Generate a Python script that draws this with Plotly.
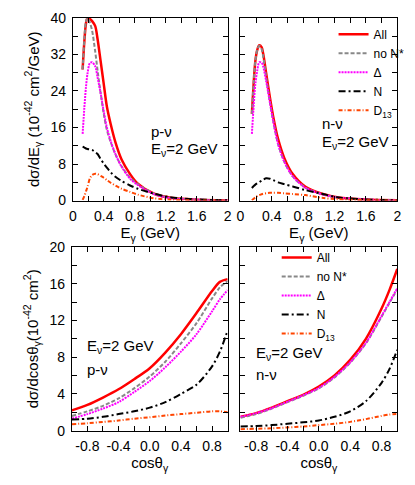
import plotly.graph_objects as go

# ---- data ----
# top row: d(sigma)/dE_gamma vs E_gamma, E_nu = 2 GeV
e_p = [0.127, 0.15, 0.17, 0.19, 0.22, 0.25, 0.29, 0.32, 0.36, 0.40, 0.44, 0.49, 0.55, 0.63, 0.74, 0.84, 1.05, 1.27, 1.6, 2.0]
p_all = [28.7, 35.0, 38.8, 40.0, 39.8, 39.3, 38.2, 35.4, 30.5, 25.5, 20.6, 16.7, 12.8, 9.0, 5.8, 3.7, 1.5, 0.6, 0.2, 0.05]
p_nonstar = [28.7, 35.5, 39.2, 40.0, 39.0, 37.2, 32.6, 28.5, 23.5, 19.0, 15.5, 12.8, 10.2, 7.5, 5.0, 3.6, 1.5, 0.6, 0.2, 0.05]
p_delta = [14.6, 20.5, 24.8, 27.8, 30.1, 30.3, 29.4, 27.0, 23.5, 19.5, 16.0, 13.0, 10.2, 7.4, 4.8, 3.4, 1.4, 0.5, 0.2, 0.05]
p_nuc = [11.8, 11.6, 11.4, 11.3, 11.2, 11.1, 10.6, 10.2, 9.1, 8.1, 7.2, 6.2, 5.2, 4.3, 3.3, 2.6, 1.5, 0.7, 0.25, 0.08]
p_d13 = [0.15, 1.0, 2.0, 3.0, 4.8, 5.6, 5.9, 5.8, 5.4, 5.0, 4.5, 3.9, 3.3, 2.6, 1.9, 1.3, 0.5, 0.2, 0.05, 0.0]

e_n = [0.146, 0.17, 0.19, 0.215, 0.24, 0.27, 0.29, 0.33, 0.375, 0.417, 0.48, 0.56, 0.667, 0.83, 1.04, 1.25, 1.6, 2.0]
n_all = [19.0, 26.0, 30.5, 33.0, 34.0, 33.6, 32.2, 27.7, 22.7, 18.5, 13.5, 9.3, 5.8, 3.0, 1.5, 0.7, 0.25, 0.08]
n_nonstar = [19.0, 26.0, 30.5, 33.0, 33.9, 33.2, 31.6, 26.8, 21.6, 17.5, 12.4, 8.5, 5.3, 2.8, 1.4, 0.65, 0.22, 0.07]
n_delta = [14.6, 21.0, 25.5, 28.5, 30.3, 30.2, 29.4, 26.0, 21.6, 17.5, 12.4, 8.5, 5.3, 2.8, 1.4, 0.65, 0.22, 0.07]
n_nuc = [2.75, 3.2, 3.5, 3.8, 4.0, 4.4, 4.6, 4.9, 4.8, 4.5, 4.0, 3.6, 3.1, 2.3, 1.5, 0.7, 0.25, 0.08]
n_d13 = [0.1, 0.4, 0.7, 1.0, 1.2, 1.4, 1.5, 1.6, 1.7, 1.7, 1.7, 1.6, 1.45, 1.2, 0.6, 0.3, 0.1, 0.02]

# bottom row: d(sigma)/dcos(theta_gamma) vs cos(theta_gamma)
cos_t = [-1.0, -0.8, -0.6, -0.4, -0.2, 0.0, 0.2, 0.4, 0.6, 0.8, 0.9, 1.0]
pc_all = [2.2, 2.8, 3.6, 4.5, 5.6, 6.8, 8.5, 10.5, 12.8, 15.2, 16.2, 16.5]
pc_nonstar = [1.6, 2.1, 2.7, 3.5, 4.6, 5.9, 7.5, 9.5, 11.7, 14.4, 15.6, 16.3]
pc_delta = [1.3, 1.8, 2.4, 3.1, 4.2, 5.4, 6.9, 8.6, 10.5, 13.0, 14.3, 15.3]
pc_nuc = [1.2, 1.3, 1.5, 1.8, 2.1, 2.5, 3.1, 4.0, 5.0, 7.0, 8.6, 10.9]
pc_d13 = [0.7, 0.8, 0.95, 1.1, 1.3, 1.45, 1.65, 1.8, 1.95, 2.1, 2.1, 2.0]

nc_all = [1.5, 1.9, 2.5, 3.2, 3.9, 4.8, 6.0, 7.7, 10.0, 13.3, 15.3, 17.6]
nc_nonstar = [1.4, 1.8, 2.4, 3.1, 3.8, 4.6, 5.8, 7.4, 9.5, 12.4, 13.9, 15.4]
nc_delta = [1.5, 1.9, 2.45, 3.15, 3.85, 4.65, 5.85, 7.45, 9.55, 12.5, 14.0, 15.5]
nc_nuc = [0.45, 0.5, 0.6, 0.75, 0.9, 1.1, 1.5, 2.1, 3.2, 5.2, 6.7, 8.8]
nc_d13 = [0.15, 0.2, 0.25, 0.35, 0.45, 0.6, 0.75, 0.95, 1.25, 1.6, 1.75, 1.8]

names = ['All', 'no N*', 'Δ', 'N', 'D<sub>13</sub>']
styles = [
    dict(color='#ff0000', width=2.5, dash='solid'),
    dict(color='#888888', width=2, dash='4px,2px'),
    dict(color='#ff00ff', width=2, dash='2px,1px'),
    dict(color='#000000', width=2, dash='7px,3px,2px,3px'),
    dict(color='#ff4500', width=2, dash='4px,2px,1px,2px'),
]

FONT = 'Liberation Sans'
OFF = 8                      # the page body adds an 8px margin
W, H = 415 - OFF, 485 - OFF

fig = go.Figure()

panels = [
    ('x', 'y', e_p, [p_all, p_nonstar, p_delta, p_nuc, p_d13], None),
    ('x2', 'y2', e_n, [n_all, n_nonstar, n_delta, n_nuc, n_d13], 'legend'),
    ('x3', 'y3', cos_t, [pc_all, pc_nonstar, pc_delta, pc_nuc, pc_d13], None),
    ('x4', 'y4', cos_t, [nc_all, nc_nonstar, nc_delta, nc_nuc, nc_d13], 'legend2'),
]
for xa, ya, xs, series, leg in panels:
    for name, ys, st in zip(names, series, styles):
        fig.add_trace(go.Scatter(
            x=xs, y=ys, mode='lines', name=name,
            line=dict(shape='spline', smoothing=0.8, **st),
            xaxis=xa, yaxis=ya,
            showlegend=leg is not None,
            legend=leg if leg else 'legend',
        ))

# pixel boxes of the four panels (window pixels) -> paper domains
def xdom(l, r):
    return [(l - OFF) / W, (r - OFF) / W]

def ydom(t, b):
    return [1 - (b - OFF) / H, 1 - (t - OFF) / H]

e_ticks = [round(0.2 * i, 1) for i in range(11)]
e_text = [('%g' % v) if i % 2 == 0 else '' for i, v in enumerate(e_ticks)]
c_ticks = [round(-1 + 0.2 * i, 1) for i in range(11)]
c_text = [('%.1f' % v) if i % 2 == 1 else '' for i, v in enumerate(c_ticks)]
y1_ticks = list(range(0, 41, 4))
y1_text = [str(v) if v % 8 == 0 else '' for v in y1_ticks]
y3_ticks = list(range(0, 21, 2))
y3_text = [str(v) if v % 4 == 0 else '' for v in y3_ticks]

common = dict(showline=True, linecolor='black', linewidth=1, mirror='ticks',
              ticks='inside', ticklen=5, tickcolor='black', showgrid=False,
              zeroline=False, tickfont=dict(family=FONT, size=14, color='black'),
              tickmode='array', ticklabelstandoff=3)
tfont = dict(family=FONT, size=15, color='black')

fig.update_layout(
    width=W, height=H,
    margin=dict(l=0, r=0, t=0, b=0),
    paper_bgcolor='white', plot_bgcolor='white',
    font=dict(family=FONT, size=14, color='black'),
    xaxis=dict(domain=xdom(70, 228), range=[0, 2], anchor='y', tickvals=e_ticks, ticktext=e_text,
               title=dict(text='E<sub>γ</sub> (GeV)', standoff=0, font=tfont), **common),
    xaxis2=dict(domain=xdom(241, 401), range=[0, 2], anchor='y2', tickvals=e_ticks, ticktext=e_text,
                title=dict(text='E<sub>γ</sub> (GeV)', standoff=0, font=tfont), **common),
    xaxis3=dict(domain=xdom(69, 228), range=[-1, 1], anchor='y3', tickvals=c_ticks, ticktext=c_text,
                title=dict(text='cosθ<sub>γ</sub>', standoff=2, font=tfont), **common),
    xaxis4=dict(domain=xdom(241, 401), range=[-1, 1], anchor='y4', tickvals=c_ticks, ticktext=c_text,
                title=dict(text='cosθ<sub>γ</sub>', standoff=2, font=tfont), **common),
    yaxis=dict(domain=ydom(10, 199), range=[0, 40], anchor='x', tickvals=y1_ticks, ticktext=y1_text,
               title=dict(text='dσ/dE<sub>γ</sub> (10<sup>-42</sup> cm<sup>2</sup>/GeV)', standoff=7, font=tfont),
               **common),
    yaxis2=dict(domain=ydom(10, 199), range=[0, 40], anchor='x2', tickvals=y1_ticks,
                showticklabels=False, **common),
    yaxis3=dict(domain=ydom(247, 437), range=[0, 20], anchor='x3', tickvals=y3_ticks, ticktext=y3_text,
                title=dict(text='dσ/dcosθ<sub>γ</sub>(10<sup>-42</sup> cm<sup>2</sup>)', standoff=7, font=tfont),
                **common),
    yaxis4=dict(domain=ydom(247, 437), range=[0, 20], anchor='x4', tickvals=y3_ticks,
                showticklabels=False, **common),
    legend=dict(x=(336 - OFF) / W, y=1 - (12 - OFF) / H, xanchor='left', yanchor='top',
                bgcolor='rgba(0,0,0,0)', font=dict(family=FONT, size=12),
                itemwidth=30, tracegroupgap=0),
    legend2=dict(x=(278 - OFF) / W, y=1 - (243 - OFF) / H, xanchor='left', yanchor='top',
                 bgcolor='rgba(0,0,0,0)', font=dict(family=FONT, size=12),
                 itemwidth=30, tracegroupgap=0),
)

labels = [
    ('x', 'y', 0.99, 15.2, 'p-ν'), ('x', 'y', 0.99, 11.2, 'E<sub>ν</sub>=2 GeV'),
    ('x2', 'y2', 1.01, 16.8, 'n-ν'), ('x2', 'y2', 1.01, 12.8, 'E<sub>ν</sub>=2 GeV'),
    ('x3', 'y3', -0.83, 9.2, 'E<sub>ν</sub>=2 GeV'), ('x3', 'y3', -0.83, 6.7, 'p-ν'),
    ('x4', 'y4', -0.83, 8.4, 'E<sub>ν</sub>=2 GeV'), ('x4', 'y4', -0.83, 6.1, 'n-ν'),
]
for xa, ya, xv, yv, txt in labels:
    fig.add_annotation(x=xv, y=yv, xref=xa, yref=ya, text=txt, showarrow=False,
                       xanchor='left', yanchor='middle', font=dict(family=FONT, size=15))

fig.write_html("out.html")
